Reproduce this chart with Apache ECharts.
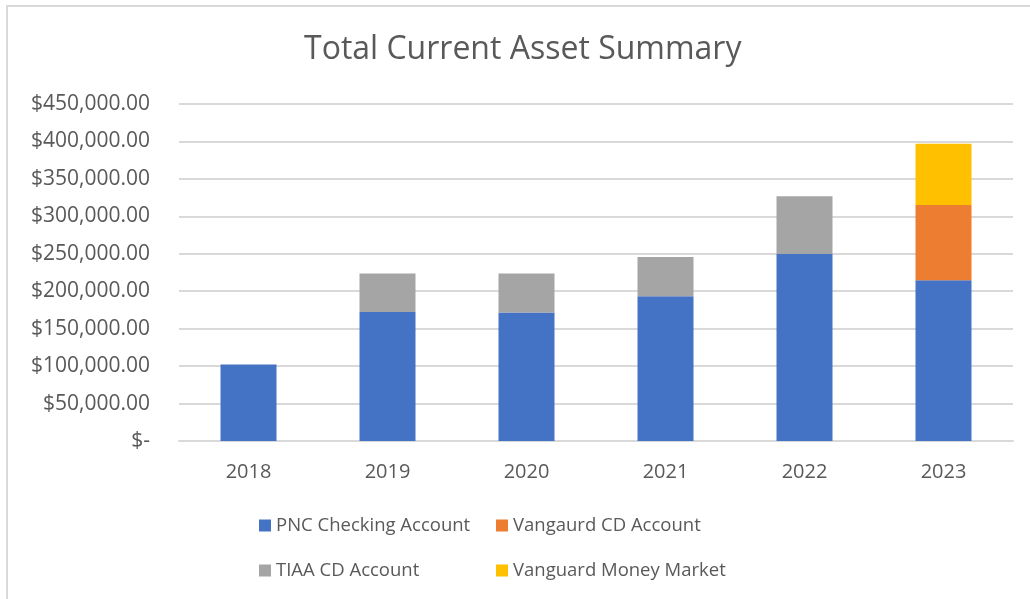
<!DOCTYPE html>
<html>
<head>
<meta charset="utf-8">
<script src="https://cdn.jsdelivr.net/npm/echarts@6/dist/echarts.min.js"></script>
<style>
  html, body { margin: 0; padding: 0; background: #fff; }
  #frame { position: absolute; left: 6px; top: 5px; width: 1040px; height: 610px; border: 2px solid #d9d9d9; box-sizing: border-box; }
  #main { position: absolute; left: 0; top: 0; width: 1030px; height: 599px; }
</style>
</head>
<body>
<div id="frame"></div>
<div id="main"></div>
<script>
var years = ['2018', '2019', '2020', '2021', '2022', '2023'];
var pnc = [102000, 172400, 171600, 193400, 249600, 214800];
var vanguardCd = [0, 0, 0, 0, 0, 100400];
var tiaa = [0, 51400, 52200, 52200, 77200, 0];
var moneyMarket = [0, 0, 0, 0, 0, 81600];

var textColor = '#595959';
var font = 'Open Sans';

function money(v) {
  if (v === 0) return '$-';
  return '$' + v.toLocaleString('en-US', { minimumFractionDigits: 2, maximumFractionDigits: 2 });
}

function bar(name, data, color) {
  return {
    name: name,
    type: 'bar',
    stack: 'total',
    barWidth: 56,
    itemStyle: { color: color },
    data: data.map(function (v) { return v === 0 ? null : v; })
  };
}

var legendBase = {
  orient: 'vertical',
  top: 511,
  itemWidth: 12,
  itemHeight: 12,
  itemGap: 26,
  icon: 'rect',
  textStyle: { color: textColor, fontFamily: font, fontSize: 18.5 }
};

var myChart = echarts.init(document.getElementById('main'));
myChart.setOption({
  animation: false,
  title: {
    text: 'Total Current Asset Summary',
    left: 299,
    top: 29,
    textStyle: { color: textColor, fontFamily: font, fontWeight: 'normal', fontSize: 32 }
  },
  legend: [
    Object.assign({ data: ['PNC Checking Account', 'TIAA CD Account'], left: 254 }, legendBase),
    Object.assign({ data: ['Vangaurd CD Account', 'Vanguard Money Market'], left: 491 }, legendBase)
  ],
  grid: { left: 179, right: 17, top: 104, bottom: 158 },
  xAxis: {
    type: 'category',
    data: years,
    axisLine: { lineStyle: { color: '#d9d9d9', width: 2 } },
    axisTick: { show: false },
    axisLabel: { color: textColor, fontFamily: font, fontSize: 20, margin: 21 }
  },
  yAxis: {
    type: 'value',
    min: 0,
    max: 450000,
    interval: 50000,
    axisLine: { show: false },
    axisTick: { show: false },
    splitLine: { lineStyle: { color: '#d9d9d9', width: 2 } },
    axisLabel: { color: textColor, fontFamily: font, fontSize: 21, margin: 29, formatter: money }
  },
  series: [
    bar('PNC Checking Account', pnc, '#4472c4'),
    bar('Vangaurd CD Account', vanguardCd, '#ed7d31'),
    bar('TIAA CD Account', tiaa, '#a5a5a5'),
    bar('Vanguard Money Market', moneyMarket, '#ffc000')
  ]
});
</script>
</body>
</html>
